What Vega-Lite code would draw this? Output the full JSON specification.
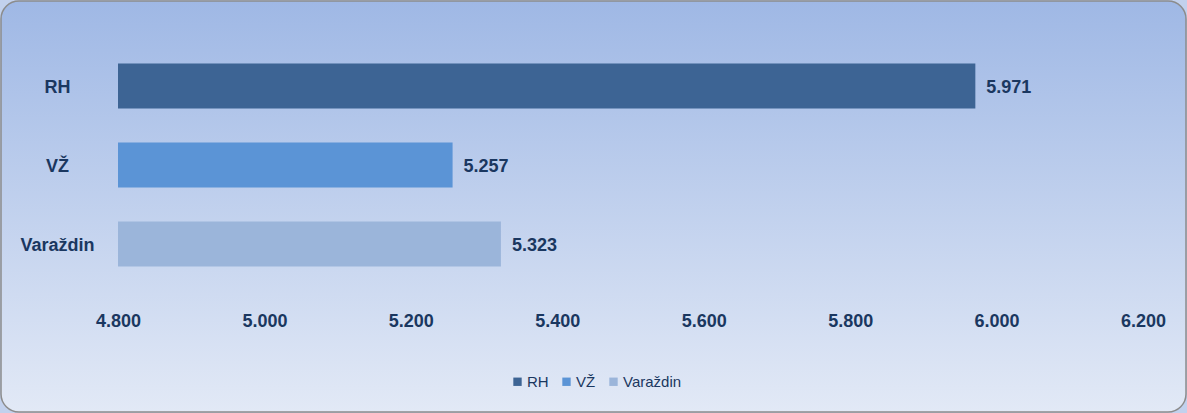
{
  "$schema": "https://vega.github.io/schema/vega-lite/v6.json",
  "autosize": {"type": "none"},
  "padding": 1,
  "width": 1185,
  "height": 411,
  "data": {
    "values": [
      {"grad": "RH", "vrijednost": 5.971},
      {"grad": "VŽ", "vrijednost": 5.257},
      {"grad": "Varaždin", "vrijednost": 5.323}
    ]
  },
  "encoding": {
    "y": {
      "field": "grad",
      "type": "nominal",
      "sort": ["RH", "VŽ", "Varaždin"],
      "title": null,
      "scale": {"range": [32, 296], "paddingInner": 0.43, "paddingOuter": 0.386},
      "axis": {
        "offset": -56,
        "labelPadding": 0,
        "labelAlign": "center",
        "labelOffset": 2,
        "ticks": false,
        "domain": false,
        "labelFont": "Liberation Sans",
        "labelFontSize": 18,
        "labelFontWeight": "bold",
        "labelColor": "#1a3760"
      }
    },
    "x": {
      "field": "vrijednost",
      "type": "quantitative",
      "title": null,
      "scale": {"domain": [4.8, 6.2], "range": [117, 1142], "zero": false},
      "axis": {
        "offset": -115,
        "values": [4.8, 5.0, 5.2, 5.4, 5.6, 5.8, 6.0, 6.2],
        "labelExpr": "replace(format(datum.value, '.3f'), ',', '.')",
        "labelFlush": false,
        "labelPadding": 15,
        "ticks": false,
        "domain": false,
        "grid": false,
        "labelFont": "Liberation Sans",
        "labelFontSize": 18,
        "labelFontWeight": "bold",
        "labelColor": "#1a3760"
      }
    }
  },
  "layer": [
    {
      "mark": {"type": "bar"},
      "encoding": {
        "x2": {"datum": 4.8},
        "color": {
          "field": "grad",
          "type": "nominal",
          "title": null,
          "sort": ["RH", "VŽ", "Varaždin"],
          "scale": {
            "domain": ["RH", "VŽ", "Varaždin"],
            "range": ["#3d6494", "#5b94d6", "#9bb5da"]
          },
          "legend": {
            "orient": "none",
            "direction": "horizontal",
            "legendX": 509,
            "legendY": 373,
            "symbolType": "square",
            "symbolSize": 70,
            "symbolStrokeWidth": 0,
            "labelFont": "Liberation Sans",
            "labelFontSize": 15,
            "labelColor": "#1a3760",
            "columnPadding": 10,
            "labelOffset": 2
          }
        }
      }
    },
    {
      "mark": {
        "type": "text",
        "align": "left",
        "baseline": "middle",
        "dx": 11,
        "dy": 2,
        "font": "Liberation Sans",
        "fontSize": 18,
        "fontWeight": "bold",
        "color": "#1a3760"
      },
      "encoding": {
        "text": {"field": "vrijednost", "type": "quantitative", "format": ".3f"}
      }
    }
  ],
  "config": {
    "background": "#c2d1ed",
    "view": {
      "stroke": "#8c8c8c",
      "strokeWidth": 1.5,
      "cornerRadius": 18,
      "fill": {
        "gradient": "linear",
        "x1": 0, "y1": 0, "x2": 0, "y2": 1,
        "stops": [
          {"offset": 0, "color": "#9fb8e5"},
          {"offset": 1, "color": "#e2e9f6"}
        ]
      }
    }
  }
}
